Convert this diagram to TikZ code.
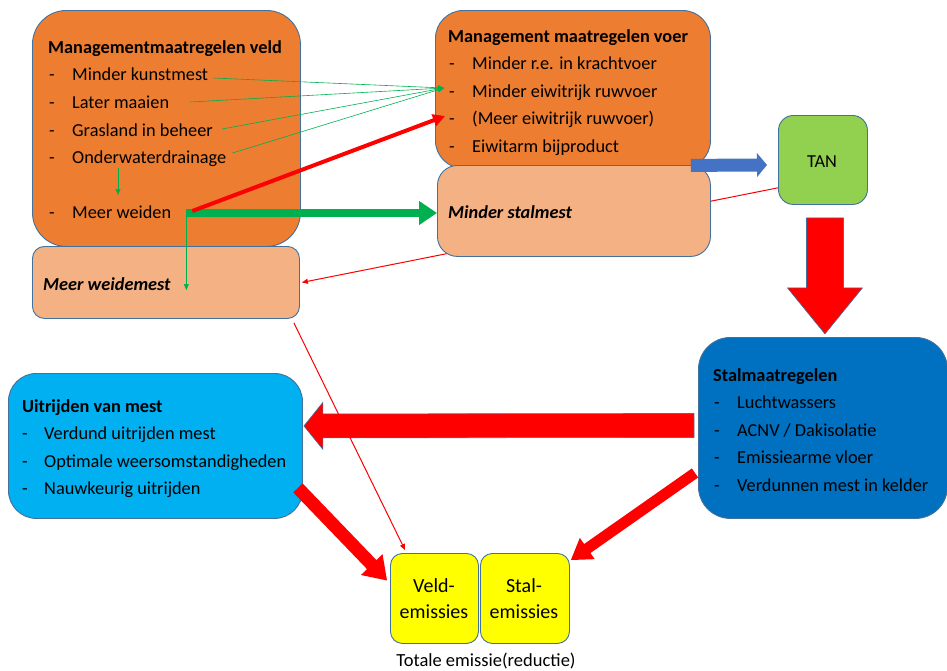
\documentclass[tikz,border=0pt]{standalone}
\usepackage{fontspec}
\setmainfont{Carlito}
\usetikzlibrary{arrows.meta,calc}
\pgfdeclarelayer{bg}
\pgfsetlayers{bg,main}
\definecolor{orng}{HTML}{ED7D31}
\definecolor{lorng}{HTML}{F4B183}
\definecolor{tgreen}{HTML}{92D050}
\definecolor{dblue}{HTML}{0070C0}
\definecolor{lblue}{HTML}{00B0F0}
\definecolor{yel}{HTML}{FFFF00}
\definecolor{grn}{HTML}{00B050}
\definecolor{barrow}{HTML}{4472C4}
\definecolor{bord}{HTML}{41719C}
% block arrow: #1 style, #2 start, #3 end, #4 half shaft, #5 half head, #6 head length
\newcommand\blkarrow[6]{%
  \path[#1] ($(#2)!#4!90:(#3)$)
    -- ($($(#3)!#6!(#2)$)!#4!-90:(#2)$)
    -- ($($(#3)!#6!(#2)$)!#5!-90:(#2)$)
    -- (#3)
    -- ($($(#3)!#6!(#2)$)!#5!90:(#2)$)
    -- ($($(#3)!#6!(#2)$)!#4!90:(#2)$)
    -- ($(#2)!#4!-90:(#3)$) -- cycle;}
\begin{document}
\begin{tikzpicture}[x=1pt,y=-1pt,
  box/.style={draw=bord, line width=0.9pt, inner sep=0pt, anchor=north west},
  txt/.style={anchor=base west, inner sep=0pt, font=\fontsize{18.3}{21}\selectfont},
  ttl/.style={txt, font=\fontsize{18.3}{21}\selectfont\bfseries},
  itl/.style={txt, font=\fontsize{18.3}{21}\selectfont\bfseries\itshape},
  ctr/.style={anchor=base, inner sep=0pt, font=\fontsize{18.3}{21}\selectfont},
  emi/.style={anchor=base, inner sep=0pt, font=\fontsize{20}{23}\selectfont},
  gthin/.style={draw=grn, line width=0.6pt, -{Triangle[length=6pt,width=5pt]}},
  rthin/.style={draw=red, line width=1pt, -{Triangle[length=6pt,width=5pt]}},
  redfill/.style={fill=red},
  redblk/.style={fill=red, draw=bord, line width=0.6pt},
]
\useasboundingbox (0,0) rectangle (947,670);

% boxes
\node[box, fill=orng, rounded corners=34pt, minimum width=268pt, minimum height=236pt] (veld) at (32,10) {};
\node[box, fill=lorng, rounded corners=12pt, minimum width=267pt, minimum height=72pt] (weide) at (32,246) {};
\node[box, fill=orng, rounded corners=28pt, minimum width=275pt, minimum height=158pt] (voer) at (435,10) {};
\node[box, fill=lorng, rounded corners=20pt, minimum width=273pt, minimum height=91pt] (stalm) at (437,165) {};
\node[box, fill=tgreen, rounded corners=15pt, minimum width=89pt, minimum height=89pt] (tan) at (778,115) {};
\node[box, fill=dblue, rounded corners=32pt, minimum width=249pt, minimum height=181pt] (stalbox) at (698,337) {};
\node[box, fill=lblue, rounded corners=28pt, minimum width=294pt, minimum height=145pt] (uit) at (8,373) {};
\node[box, fill=yel, rounded corners=12pt, minimum width=88pt, minimum height=90pt] (veldE) at (390,553) {};
\node[box, fill=yel, rounded corners=12pt, minimum width=89pt, minimum height=90pt] (stalE) at (480,553) {};

% box A text
\node[ttl] (at0) at (48,53) {Managementmaatregelen veld};
\node[txt] (ad1) at (49,80) {-};  \node[txt] (a1) at (72,80) {Minder kunstmest};
\node[txt] (ad2) at (49,108) {-}; \node[txt] (a2) at (72,108) {Later maaien};
\node[txt] (ad3) at (49,136) {-}; \node[txt] (a3) at (72,136) {Grasland in beheer};
\node[txt] (ad4) at (49,163) {-}; \node[txt] (a4) at (72,163) {Onderwaterdrainage};
\node[txt] (ad5) at (49,218) {-}; \node[txt] (a5) at (72,218) {Meer weiden};

% box B text
\node[ttl] (bt0) at (448,42) {Management maatregelen voer};
\node[txt] (bd1) at (449,69) {-};  \node[txt] (b1) at (472,69) {Minder r.e. in krachtvoer};
\node[txt] (bd2) at (449,97) {-};  \node[txt] (b2) at (472,97) {Minder eiwitrijk ruwvoer};
\node[txt] (bd3) at (449,124) {-}; \node[txt] (b3) at (472,124) {(Meer eiwitrijk ruwvoer)};
\node[txt] (bd4) at (449,152) {-}; \node[txt] (b4) at (472,152) {Eiwitarm bijproduct};

\node[itl] (sm) at (448,218) {Minder stalmest};
\node[itl] (wm) at (43,290) {Meer weidemest};
\node[ctr] (tant) at (822,167) {TAN};

% Uitrijden
\node[ttl] (ut0) at (22,412) {Uitrijden van mest};
\node[txt] (ud1) at (22,439) {-}; \node[txt] (u1) at (44,439) {Verdund uitrijden mest};
\node[txt] (ud2) at (22,467) {-}; \node[txt] (u2) at (44,467) {Optimale weersomstandigheden};
\node[txt] (ud3) at (22,494) {-}; \node[txt] (u3) at (44,494) {Nauwkeurig uitrijden};

% Stalmaatregelen
\node[ttl] (st0) at (713,381) {Stalmaatregelen};
\node[txt] (sd1) at (714,408) {-}; \node[txt] (s1) at (737,408) {Luchtwassers};
\node[txt] (sd2) at (714,436) {-}; \node[txt] (s2) at (737,436) {ACNV / Dakisolatie};
\node[txt] (sd3) at (714,463) {-}; \node[txt] (s3) at (737,463) {Emissiearme vloer};
\node[txt] (sd4) at (714,491) {-}; \node[txt] (s4) at (737,491) {Verdunnen mest in kelder};

% emissions
\node[emi] (ve1) at (434,592) {Veld-};
\node[emi] (ve2) at (434,618) {emissies};
\node[emi] (se1) at (524,592) {Stal-};
\node[emi] (se2) at (524,618) {emissies};
\node[anchor=base, inner sep=0pt, font=\fontsize{18.5}{21}\selectfont] (tot) at (486,666) {Totale emissie(reductie)};

% coordinates
\coordinate (gtip) at ($(bd2.base west)+(-5,-9)$);
\coordinate (rtip) at ($(bd3.base west)+(-4,-8)$);
\coordinate (mw) at ($(a5.base east)+(15,-5)$);

% background thin red line (behind Minder stalmest)
\begin{pgfonlayer}{bg}
\draw[rthin] ($(tan.south west)!0.19!(tan.north west)$) -- ($(weide.east)+(2,0)$);
\end{pgfonlayer}

% thin green arrows
\draw[gthin] ($(a1.base east)+(5,-2)$) -- (gtip);
\draw[gthin] ($(a2.base east)+(21,-6)$) -- (gtip);
\draw[gthin] ($(a3.base east)+(9,-7)$) -- (gtip);
\draw[gthin] ($(a4.base east)+(6,-10)$) -- (gtip);
\draw[gthin] ($(a4.base west)+(46,5)$) -- ($(a5.base west)+(46,-23)$);
\draw[gthin] (mw) -- (mw |- wm.base);

% thick green and red medium
\draw[draw=grn, line width=8pt, -{Triangle[length=18pt,width=23pt]}] (mw) -- (mw -| stalm.west);
\draw[draw=red, line width=4pt, -{Triangle[length=12pt,width=12pt]}] ($(mw)+(6,-2)$) -- (rtip);

% block arrows
\blkarrow{fill=barrow}{$(voer.south east)+(-20,-3.5)$}{$(tan.west)+(-11,5)$}{6.5pt}{12pt}{10pt}
\blkarrow{redblk}{$(tan.south)+(2,13)$}{$(tan.south)+(2,129)$}{18.5pt}{37.5pt}{46pt}
\blkarrow{redblk}{$(stalbox.west)+(-4,-2.5)$}{$(uit.east)+(1,-20)$}{12pt}{23.5pt}{19pt}
\blkarrow{redfill}{$(uit.south east)+(-5,-31)$}{$(veldE.west)+(-3,-18)$}{6.5pt}{15pt}{22pt}
\blkarrow{redfill}{$(stalbox.west)+(-3,45)$}{$(stalE.north east)+(1,7)$}{5.5pt}{13pt}{20pt}

% thin red to Veld-emissies
\draw[rthin] ($(weide.south east)+(-6,4)$) -- ($(veldE.north west)+(15,-3)$);
\end{tikzpicture}
\end{document}
